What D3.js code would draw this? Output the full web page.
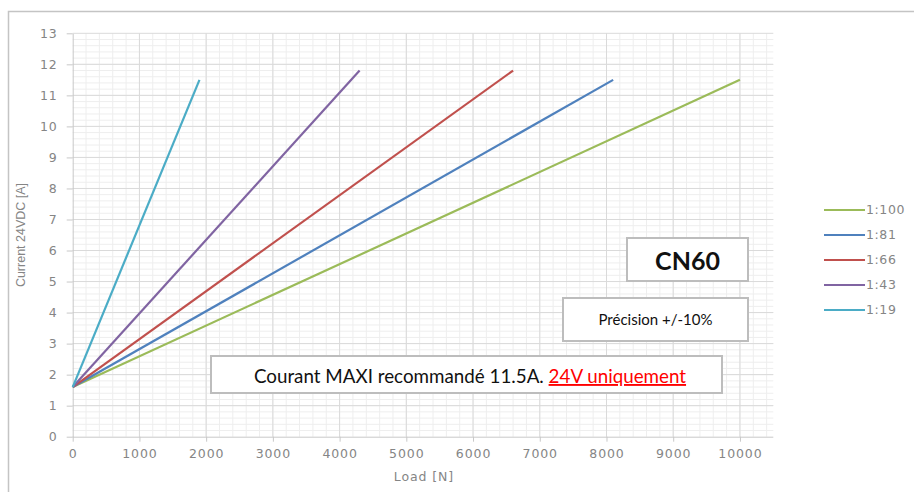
<!DOCTYPE html>
<html lang="en">
<head>
  <meta charset="UTF-8">
  <title>CN60 - Current vs Load</title>
  <script src="https://d3js.org/d3.v7.min.js"></script>
  <style>
    body {
      margin: 0;
      background: #ffffff;
    }

    .axis path,
    .axis line {
      stroke: #c8c8c8;
    }

    .axis text {
      fill: #858585;
      font-family: "DejaVu Sans", sans-serif;
      font-size: 12.5px;
      letter-spacing: 0.9px;
    }

    .grid-minor {
      stroke: #eeeeee;
      stroke-width: 1;
    }

    .grid-major {
      stroke: #dadada;
      stroke-width: 1;
    }

    .series {
      fill: none;
      stroke-width: 2.2;
    }

    .legend text {
      fill: #858585;
      font-family: "DejaVu Sans", sans-serif;
      font-size: 12.5px;
      letter-spacing: 0.6px;
    }

    .note-box {
      fill: #ffffff;
      stroke: #bdbdbd;
      stroke-width: 2;
    }

    .note {
      font-family: "Lato", "Open Sans", sans-serif;
      fill: #111111;
    }
  </style>
</head>
<body>
  <script>
    // series from the chart (load in N, current in A)
    const ratios = ["1:100", "1:81", "1:66", "1:43", "1:19"];
    const colors = ["#9bbb59", "#4f81bd", "#c0504d", "#8064a2", "#4bacc6"];
    const loads = [
      [0, 10000],
      [0, 8100],
      [0, 6600],
      [0, 4300],
      [0, 1900]
    ];
    const currents = [
      [1.6, 11.5],
      [1.6, 11.5],
      [1.6, 11.8],
      [1.6, 11.8],
      [1.6, 11.5]
    ];
    const xTicks = [0, 1000, 2000, 3000, 4000, 5000, 6000, 7000, 8000, 9000, 10000];
    const yTicks = [0, 1, 2, 3, 4, 5, 6, 7, 8, 9, 10, 11, 12, 13];

    const W = 914, H = 492;
    const plot = {left: 72.7, right: 773.3, top: 33.3, bottom: 436.7};

    const svg = d3.select("body").append("svg")
      .attr("width", W)
      .attr("height", H);

    // outer frame (only top and left edges are visible)
    svg.append("path")
      .attr("d", "M8.5," + H + "V11.5H" + W)
      .attr("fill", "none")
      .attr("stroke", "#c4c4c4")
      .attr("stroke-width", 1.5);

    const x = d3.scaleLinear().domain([0, 10500]).range([plot.left, plot.right]);
    const y = d3.scaleLinear().domain([0, 13]).range([plot.bottom, plot.top]);

    // minor grid
    const g = svg.append("g");
    g.selectAll(".vminor")
      .data(d3.range(200, 10500 + 1, 200))
      .enter().append("line")
      .attr("class", "grid-minor")
      .attr("x1", d => x(d)).attr("x2", d => x(d))
      .attr("y1", plot.top).attr("y2", plot.bottom);
    g.selectAll(".hminor")
      .data(d3.range(1, 65, 1).map(i => i * 0.2))
      .enter().append("line")
      .attr("class", "grid-minor")
      .attr("x1", plot.left).attr("x2", plot.right)
      .attr("y1", d => y(d)).attr("y2", d => y(d));

    // major grid
    g.selectAll(".vmajor")
      .data(xTicks.slice(1))
      .enter().append("line")
      .attr("class", "grid-major")
      .attr("x1", d => x(d)).attr("x2", d => x(d))
      .attr("y1", plot.top).attr("y2", plot.bottom);
    g.selectAll(".hmajor")
      .data(yTicks.slice(1))
      .enter().append("line")
      .attr("class", "grid-major")
      .attr("x1", plot.left).attr("x2", plot.right)
      .attr("y1", d => y(d)).attr("y2", d => y(d));

    // axes
    const xAxis = d3.axisBottom(x).tickValues(xTicks).tickFormat(d3.format("d"))
      .tickSize(5).tickPadding(7).tickSizeOuter(0);
    const yAxis = d3.axisLeft(y).tickValues(yTicks).tickSize(6).tickPadding(9).tickSizeOuter(0);

    svg.append("g")
      .attr("class", "axis")
      .attr("transform", "translate(0," + plot.bottom + ")")
      .call(xAxis)
      .call(a => a.select(".domain").attr("d", "M" + plot.left + ",0.5H" + plot.right));

    svg.append("g")
      .attr("class", "axis")
      .attr("transform", "translate(" + plot.left + ",0)")
      .call(yAxis);

    // series lines
    const line = d3.line()
      .x(d => x(d[0]))
      .y(d => y(d[1]));

    svg.selectAll(".series")
      .data(ratios.map((r, i) => d3.zip(loads[i], currents[i])))
      .enter().append("path")
      .attr("class", "series")
      .attr("stroke", (d, i) => colors[i])
      .attr("d", line);

    // axis titles
    svg.append("text")
      .attr("x", 424)
      .attr("y", 481)
      .attr("text-anchor", "middle")
      .attr("fill", "#858585")
      .style("font-family", "DejaVu Sans, sans-serif")
      .style("font-size", "12.5px")
      .style("letter-spacing", "0.9px")
      .text("Load [N]");

    svg.append("text")
      .attr("transform", "translate(25,235) rotate(-90)")
      .attr("text-anchor", "middle")
      .attr("fill", "#858585")
      .style("font-family", "Liberation Sans Narrow, Liberation Sans, sans-serif")
      .style("font-size", "12.5px")
      .text("Current 24VDC [A]");

    // legend
    const legend = svg.append("g").attr("class", "legend");
    const ly = d3.scalePoint().domain(ratios).range([210, 310]);
    const items = legend.selectAll("g")
      .data(ratios)
      .enter().append("g")
      .attr("transform", d => "translate(824," + ly(d) + ")");
    items.append("line")
      .attr("x1", 0).attr("x2", 41)
      .attr("stroke", (d, i) => colors[i])
      .attr("stroke-width", 2.2);
    items.append("text")
      .attr("x", 42)
      .attr("dy", "0.35em")
      .text(d => d);

    // annotation boxes
    svg.append("rect").attr("class", "note-box")
      .attr("x", 627).attr("y", 238).attr("width", 121).attr("height", 43);
    svg.append("text").attr("class", "note")
      .attr("x", 687.5).attr("y", 270)
      .attr("text-anchor", "middle")
      .style("font-size", "25px")
      .style("font-weight", "bold")
      .text("CN60");

    svg.append("rect").attr("class", "note-box")
      .attr("x", 563).attr("y", 298).attr("width", 185).attr("height", 43);
    svg.append("text").attr("class", "note")
      .attr("x", 655.5).attr("y", 325)
      .attr("text-anchor", "middle")
      .style("font-size", "15px")
      .text("Précision +/-10%");

    svg.append("rect").attr("class", "note-box")
      .attr("x", 211).attr("y", 356).attr("width", 511).attr("height", 37);
    const courant = svg.append("text").attr("class", "note")
      .attr("x", 470).attr("y", 383)
      .attr("text-anchor", "middle")
      .style("font-size", "18.8px");
    courant.append("tspan").text("Courant MAXI recommandé 11.5A. ");
    courant.append("tspan")
      .attr("fill", "#ff0000")
      .style("text-decoration", "underline")
      .text("24V uniquement");
  </script>
</body>
</html>
